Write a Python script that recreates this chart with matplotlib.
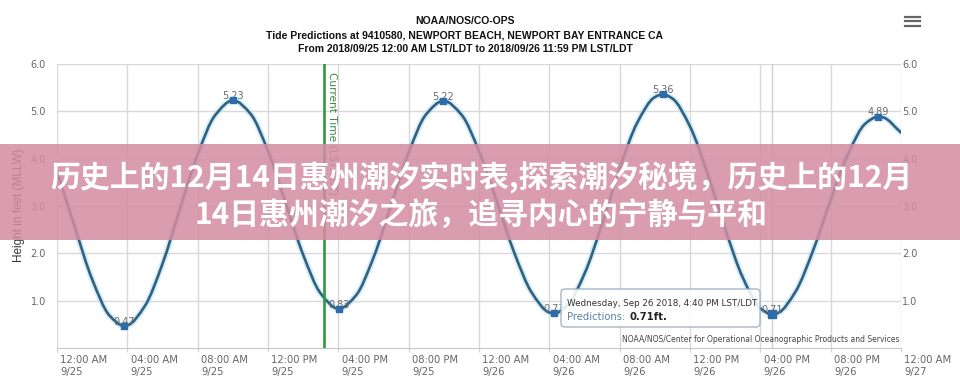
import numpy as np
import matplotlib
matplotlib.use('Agg')
import matplotlib.pyplot as plt
from matplotlib.path import Path
from matplotlib.patches import PathPatch, FancyBboxPatch, Rectangle
from matplotlib.lines import Line2D

plt.rcParams['font.family'] = ['DejaVu Sans']

# ---------------- data ----------------
hours = list(range(49))
heights = [3.73, 2.57, 1.45, 0.68, 0.48, 0.89, 1.78, 2.95, 4.09, 4.92, 5.23,
           4.95, 4.16, 3.07, 1.97, 1.15, 0.83, 1.11, 1.91, 3.02, 4.13, 4.94,
           5.22, 4.93, 4.16, 3.11, 2.02, 1.17, 0.75, 0.89, 1.57, 2.62, 3.79,
           4.76, 5.30, 5.27, 4.68, 3.68, 2.52, 1.49, 0.84, 0.74, 1.19, 2.06,
           3.13, 4.11, 4.75, 4.87, 4.55]

hilo_hours = [3.81, 10.03, 16.04, 21.97, 28.27, 34.45, 40.67, 46.72]
hilo_heights = [0.47, 5.23, 0.83, 5.22, 0.73, 5.36, 0.71, 4.89]
hover_index = 6
current_time_hours = 15.19

x_tick_hours = [0, 4, 8, 12, 16, 20, 24, 28, 32, 36, 40, 44, 48]
x_tick_labels = ['12:00 AM\n9/25', '04:00 AM\n9/25', '08:00 AM\n9/25',
                 '12:00 PM\n9/25', '04:00 PM\n9/25', '08:00 PM\n9/25',
                 '12:00 AM\n9/26', '04:00 AM\n9/26', '08:00 AM\n9/26',
                 '12:00 PM\n9/26', '04:00 PM\n9/26', '08:00 PM\n9/26',
                 '12:00 AM\n9/27']
y_ticks = [1, 2, 3, 4, 5, 6]
y_tick_labels = ['1.0', '2.0', '3.0', '4.0', '5.0', '6.0']

title_lines = ['NOAA/NOS/CO-OPS',
               'Tide Predictions at 9410580, NEWPORT BEACH, NEWPORT BAY ENTRANCE CA',
               'From 2018/09/25 12:00 AM LST/LDT to 2018/09/26 11:59 PM LST/LDT']
y_label = 'Height in feet (MLLW)'
current_label = 'Current Time (LST/LDT)'
tooltip_title = 'Wednesday, Sep 26 2018, 4:40 PM LST/LDT'
tooltip_series = 'Predictions:'
credits = 'NOAA/NOS/Center for Operational Oceanographic Products and Services'
banner_lines = ['历史上的12月14日惠州潮汐实时表,探索潮汐秘境，历史上的12月',
                '14日惠州潮汐之旅，追寻内心的宁静与平和']

# ---------------- figure ----------------
W, H = 960, 386
fig = plt.figure(figsize=(W / 100, H / 100), dpi=100)
fig.patch.set_facecolor('white')
ax = fig.add_axes([57 / W, 38 / H, 844 / W, 284 / H])
ax.set_xlim(0, 48)
ax.set_ylim(0, 6)
ax.set_axisbelow(True)

ax.set_xticks(x_tick_hours)
ax.set_yticks(y_ticks)
ax.set_yticklabels(y_tick_labels)
ax.tick_params(axis='x', length=3, color='#d0d0d0', labelbottom=False)
ax.tick_params(axis='y', length=0, pad=8, labelsize=7, labelcolor='#666666')
ax.grid(True, color='#d9d9d9', lw=1)
for s in ['top', 'left', 'right']:
    ax.spines[s].set_visible(False)
ax.spines['bottom'].set_color('#c8c8c8')

ax2 = ax.twinx()
ax2.set_ylim(0, 6)
ax2.set_yticks(y_ticks)
ax2.set_yticklabels(y_tick_labels)
ax2.tick_params(axis='y', length=0, pad=1, labelsize=7, labelcolor='#666666')
for s in ax2.spines.values():
    s.set_visible(False)

for h, lab in zip(x_tick_hours, x_tick_labels):
    ax.annotate(lab, xy=(h, 0), xycoords=('data', 'axes fraction'),
                xytext=(2.5, -5), textcoords='offset points', ha='left', va='top',
                fontsize=7.2, color='#666666', linespacing=1.25, annotation_clip=False)

# ---------------- tide curve (PCHIP-smoothed through the read values) ----------------
pts = sorted(zip(hours + hilo_hours, heights + hilo_heights))
t = np.array([p[0] for p in pts], dtype=float)
v = np.array([p[1] for p in pts], dtype=float)
hh = np.diff(t)
dl = np.diff(v) / hh
d = np.zeros_like(v)
d[0], d[-1] = dl[0], dl[-1]
for k in range(1, len(v) - 1):
    if dl[k - 1] * dl[k] <= 0:
        d[k] = 0.0
    else:
        w1 = 2 * hh[k] + hh[k - 1]
        w2 = hh[k] + 2 * hh[k - 1]
        d[k] = (w1 + w2) / (w1 / dl[k - 1] + w2 / dl[k])
verts = [(t[0], v[0])]
codes = [Path.MOVETO]
for k in range(len(t) - 1):
    h = hh[k]
    verts += [(t[k] + h / 3, v[k] + d[k] * h / 3),
              (t[k + 1] - h / 3, v[k + 1] - d[k + 1] * h / 3),
              (t[k + 1], v[k + 1])]
    codes += [Path.CURVE4] * 3
path = Path(verts, codes)
ax.add_patch(PathPatch(path, facecolor='none', edgecolor='#b3e2f6', lw=4.5,
                       alpha=0.55, capstyle='round', zorder=2))
ax.add_patch(PathPatch(path, facecolor='none', edgecolor='#33607f', lw=1.9,
                       capstyle='round', zorder=3))

# hover crosshair
ax.axvline(hilo_hours[hover_index], color='#cfcfcf', lw=1, zorder=1)

# current time line
ax.axvline(current_time_hours, color='#2f9a3d', lw=1.9, zorder=3)
ax.annotate(current_label, xy=(current_time_hours, 6), xytext=(2.3, -6),
            textcoords='offset points', rotation=270, ha='left', va='top',
            fontsize=7.6, color='#3c8a43', zorder=4)

# markers and data labels
for i, (hx, hv) in enumerate(zip(hilo_hours, hilo_heights)):
    ax.annotate(f'{hv:.2f}', xy=(hx, hv), xytext=(0, 3), textcoords='offset points',
                ha='center', va='center', fontsize=7, color='#6a6a6a', zorder=4)
ax.plot(hilo_hours, hilo_heights, 's', ms=4.2, color='#2d6ca8', zorder=5)
ax.plot([hilo_hours[hover_index]], [hilo_heights[hover_index]], 's', ms=6.2,
        color='#2d6ca8', zorder=6)

# ---------------- titles / labels ----------------
for yy, line in zip([21, 35, 49], title_lines):
    fig.text(465 / W, 1 - yy / H, line, ha='center', va='center', fontsize=7.5,
             fontweight='bold', family='Liberation Sans', color='#111111')
fig.text(19 / W, 1 - 205 / H, y_label, rotation=90, ha='center', va='center',
         fontsize=8.5, family='Liberation Sans', color='#333333')

# hamburger menu
for yy in [16.7, 21.0, 25.5]:
    fig.add_artist(Line2D([905 / W, 920 / W], [1 - yy / H, 1 - yy / H],
                          transform=fig.transFigure, color='#666666', lw=1.6))

# credits
fig.text(900 / W, 1 - 340 / H, credits, ha='right', va='center', fontsize=5.5,
         color='#444444')

# tooltip
tip = FancyBboxPatch((5.61, 0.59), 1.99, 0.38,
                     boxstyle='round,pad=0,rounding_size=0.04',
                     transform=fig.dpi_scale_trans, facecolor='white', alpha=0.88,
                     edgecolor='#97adc2', lw=1, zorder=8)
fig.add_artist(tip)
fig.text(567 / W, 1 - 304 / H, tooltip_title, ha='left', va='center', fontsize=6.3,
         color='#333333', zorder=9)
fig.text(567 / W, 1 - 316.5 / H, tooltip_series, ha='left', va='center', fontsize=7.2,
         color='#5a82ab', zorder=9)
fig.text(630 / W, 1 - 316.5 / H, f'{hilo_heights[hover_index]:.2f}ft.', ha='left',
         va='center', fontsize=7.2, fontweight='bold', color='#222222', zorder=9)

# ---------------- overlay banner ----------------
fig.add_artist(Rectangle((0, 1 - 240 / H), 1, 96 / H, transform=fig.transFigure,
                         facecolor=(0.83, 0.55, 0.64), alpha=0.85, edgecolor='none',
                         zorder=10))
for yy, line in zip([178, 216], banner_lines):
    fig.text(481 / W, 1 - yy / H, line, ha='center', va='center', fontsize=21.5,
             fontweight='bold', color='white',
             family=['Noto Sans CJK SC', 'DejaVu Sans'], zorder=11)

fig.savefig('out.png', dpi=100, facecolor='white')
